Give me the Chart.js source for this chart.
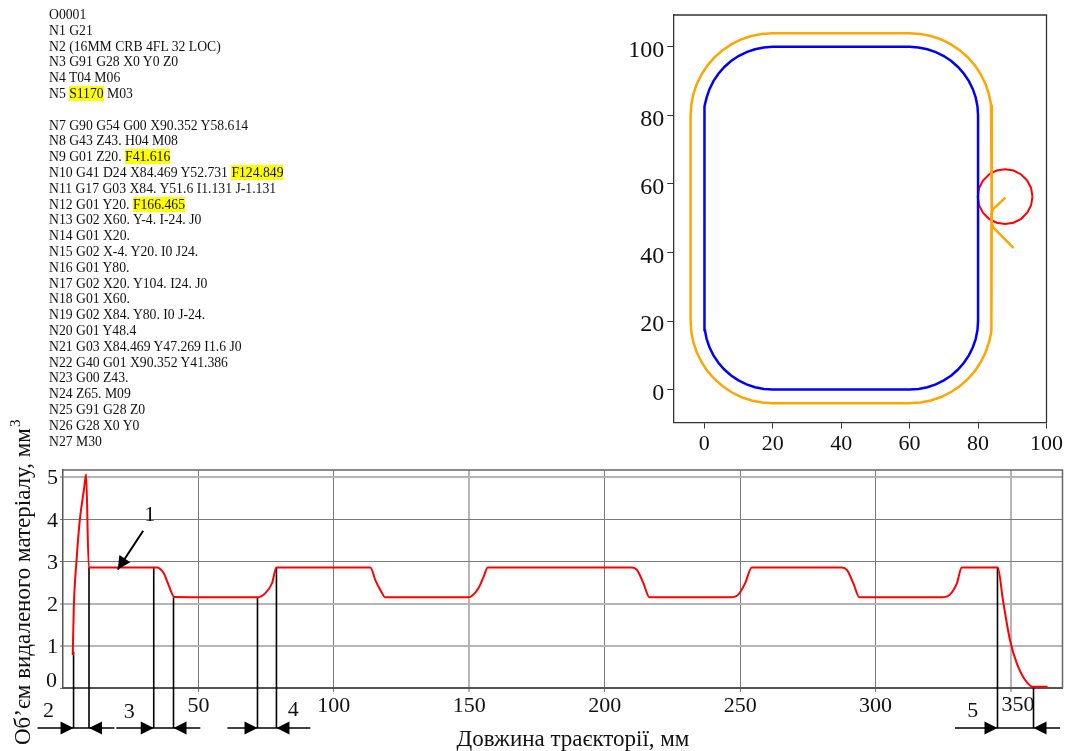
<!DOCTYPE html>
<html>
<head>
<meta charset="utf-8">
<title>G-code toolpath</title>
<script src="https://cdn.jsdelivr.net/npm/chart.js@4"></script>
<style>
    html, body { margin: 0; padding: 0; background: #fff; width: 1065px; height: 751px; overflow: hidden; }
    canvas { position: absolute; }
    #pathChart { left: 620px; top: 0; }
    #volumeChart { left: 0; top: 410px; }
    #gcode {
        position: absolute; left: 49px; top: 7px; z-index: 2;
        font: 13.7px/15.8px "Liberation Serif", serif; color: #111; white-space: pre;
    }
    #gcode mark { background: #ffff00; color: #111; }
</style>
</head>
<body>
<div id="gcode"></div>
<canvas id="volumeChart" width="1065" height="341"></canvas>
<canvas id="pathChart" width="445" height="460"></canvas>
<script>
const gcodeLines = [
    'O0001', 'N1 G21', 'N2 (16MM CRB 4FL 32 LOC)', 'N3 G91 G28 X0 Y0 Z0', 'N4 T04 M06', 'N5 S1170 M03', '',
    'N7 G90 G54 G00 X90.352 Y58.614', 'N8 G43 Z43. H04 M08', 'N9 G01 Z20. F41.616',
    'N10 G41 D24 X84.469 Y52.731 F124.849', 'N11 G17 G03 X84. Y51.6 I1.131 J-1.131', 'N12 G01 Y20. F166.465',
    'N13 G02 X60. Y-4. I-24. J0', 'N14 G01 X20.', 'N15 G02 X-4. Y20. I0 J24.', 'N16 G01 Y80.',
    'N17 G02 X20. Y104. I24. J0', 'N18 G01 X60.', 'N19 G02 X84. Y80. I0 J-24.', 'N20 G01 Y48.4',
    'N21 G03 X84.469 Y47.269 I1.6 J0', 'N22 G40 G01 X90.352 Y41.386', 'N23 G00 Z43.', 'N24 Z65. M09',
    'N25 G91 G28 Z0', 'N26 G28 X0 Y0', 'N27 M30'
];
const highlighted = ['S1170', 'F41.616', 'F124.849', 'F166.465'];

// Top chart: contour, tool path, tool
const pathTicks = [0, 20, 40, 60, 80, 100];
const contourX = [80, 80,
    79.83, 79.32, 78.48, 77.32, 75.87, 74.14, 72.18, 70, 67.65, 65.18, 62.61, 60,
    20, 17.39, 14.82, 12.35, 10, 7.83, 5.86, 4.13, 2.68, 1.52, 0.68, 0.17, 0,
    0, 0.17, 0.68, 1.52, 2.68, 4.13, 5.86, 7.83, 10, 12.35, 14.82, 17.39, 20,
    60, 62.61, 65.18, 67.65, 70, 72.17, 74.14, 75.87, 77.32, 78.48, 79.32, 79.83, 80,
    80];
const contourY = [50, 20,
    17.39, 14.82, 12.35, 10, 7.83, 5.86, 4.13, 2.68, 1.52, 0.68, 0.17, 0,
    0, 0.17, 0.68, 1.52, 2.68, 4.13, 5.86, 7.83, 10, 12.35, 14.82, 17.39, 20,
    80, 82.61, 85.18, 87.65, 90, 92.17, 94.14, 95.87, 97.32, 98.48, 99.32, 99.83, 100,
    100, 99.83, 99.32, 98.48, 97.32, 95.87, 94.14, 92.17, 90, 87.65, 85.18, 82.61, 80,
    50];
const toolPathX = [88, 84.469, 84, 84,
    83.79, 83.18, 82.18, 80.78, 79.04, 76.97, 74.61, 72, 69.18, 66.21, 63.13, 60,
    20, 16.87, 13.79, 10.82, 8, 5.39, 3.03, 0.96, -0.78, -2.17, -3.18, -3.79, -4,
    -4, -3.79, -3.18, -2.18, -0.78, 0.96, 3.03, 5.39, 8, 10.82, 13.79, 16.87, 20,
    60, 63.13, 66.21, 69.18, 72, 74.61, 76.97, 79.04, 80.78, 82.18, 83.18, 83.79, 84,
    84, 84.469, 90.352];
const toolPathY = [56, 52.731, 51.6, 20,
    16.87, 13.79, 10.82, 8, 5.39, 3.03, 0.96, -0.78, -2.17, -3.18, -3.79, -4,
    -4, -3.79, -3.18, -2.18, -0.78, 0.96, 3.03, 5.39, 8, 10.82, 13.79, 16.87, 20,
    80, 83.13, 86.21, 89.18, 92, 94.61, 96.97, 99.04, 100.78, 102.17, 103.18, 103.79, 104,
    104, 103.79, 103.18, 102.18, 100.78, 99.04, 96.97, 94.61, 92, 89.18, 86.21, 83.13, 80,
    48.4, 47.269, 41.386];
const toolX = [95.9, 95.51, 94.37, 92.6, 90.37, 87.9, 85.43, 83.2, 81.43, 80.29, 79.9, 80.29, 81.43, 83.2, 85.43, 87.9, 90.37, 92.6, 94.37, 95.51, 95.9];
const toolY = [56.3, 58.77, 61, 62.77, 63.91, 64.3, 63.91, 62.77, 61, 58.77, 56.3, 53.83, 51.6, 49.83, 48.69, 48.3, 48.69, 49.83, 51.6, 53.83, 56.3];

// Bottom chart: removed volume along the path
const volumeXTicks = [50, 100, 150, 200, 250, 300, 350];
const volumeYTicks = [0, 1, 2, 3, 4, 5];
const softXTicks = [150, 350];
const softYTicks = [1, 2, 5];
const lengthMm = [3.6, 4, 5, 6.2, 7.7, 8.55, 9.5, 34.8, 35.9, 37.2, 39, 41.1, 71.6, 74.7, 77.2, 78.8, 113.5, 115.3, 117.2, 119, 149.7, 151.6, 153.4, 155.3, 156.8, 210, 211.9, 214.3, 216.5, 246.3, 249.4, 251.8, 254.3, 287.5, 289.4, 291.8, 294, 324.4, 327.5, 330, 331.8, 345.1, 347, 349.6, 352.1, 355.2, 358.1, 363.5];
const volumeMm3 = [0.78, 1.93, 3.03, 3.98, 4.69, 5.07, 2.86, 2.86, 2.82, 2.72, 2.44, 2.16, 2.15, 2.25, 2.49, 2.86, 2.86, 2.56, 2.32, 2.15, 2.15, 2.22, 2.37, 2.64, 2.86, 2.86, 2.8, 2.48, 2.15, 2.15, 2.22, 2.48, 2.86, 2.86, 2.8, 2.48, 2.15, 2.15, 2.22, 2.48, 2.86, 2.86, 2.09, 1.14, 0.59, 0.19, 0.03, 0.03];

// Callouts under the bottom chart, in chart units
const calloutX = [3.9, 9.6, 33.5, 40.8, 71.8, 78.8, 345, 358.3];
const calloutTop = [0.86, 2.86, 2.86, 2.15, 2.15, 2.86, 2.86, 0.03];
const calloutY = -0.95;
const dimFrom = [-9.4, 19.7, 60.7, 329.3];
const dimTo = [19, 50.7, 91.3, 368.1];
const leaderX = [29.6, 20.2];
const leaderY = [3.73, 2.81];
const noteText = ['1', '2', '3', '4', '5', '0', '350'];
const noteX = [32, -5.35, 24.5, 85, 335.9, -4.2, 352.6];
const noteY = [4.1, -0.545, -0.57, -0.52, -0.56, 0.166, -0.4];

const SERIF = '"Liberation Serif", serif';

document.getElementById('gcode').innerHTML = gcodeLines.map(line =>
    line.split(' ').map(w => highlighted.includes(w) ? '<mark>' + w + '</mark>' : w).join(' ')
).join('\n');

function toPoints(xs, ys) {
    return xs.map((x, i) => ({ x: x, y: ys[i] }));
}

function lineSet(data, color, width) {
    return {
        data: data, borderColor: color, borderWidth: width,
        showLine: true, pointRadius: 0, clip: false, tension: 0
    };
}

// the axis would otherwise reserve room for its end labels
function fixBox(s, size) {
    if (s.isHorizontal()) s.height = size; else s.width = size;
    s.paddingTop = s.paddingBottom = s.paddingLeft = s.paddingRight = 0;
}

// top and right sides of the box
const framePlugin = {
    id: 'frame',
    beforeDatasetsDraw(chart, args, opts) {
        const a = chart.chartArea, ctx = chart.ctx;
        ctx.save();
        ctx.strokeStyle = opts.color;
        ctx.lineWidth = opts.width;
        ctx.beginPath();
        ctx.moveTo(a.left, a.top);
        ctx.lineTo(a.right, a.top);
        ctx.lineTo(a.right, a.bottom);
        ctx.stroke();
        ctx.restore();
    }
};

function arrowHead(ctx, px, py, angle) {
    ctx.save();
    ctx.translate(px, py);
    ctx.rotate(angle);
    ctx.beginPath();
    ctx.moveTo(0, 0);
    ctx.lineTo(-13, -6.5);
    ctx.lineTo(-13, 6.5);
    ctx.closePath();
    ctx.fill();
    ctx.restore();
}

// arrow heads, numbers and axis titles of the bottom chart
const notesPlugin = {
    id: 'notes',
    afterDatasetsDraw(chart) {
        const ctx = chart.ctx, sx = chart.scales.x, sy = chart.scales.y;
        ctx.save();
        ctx.fillStyle = '#000';
        calloutX.forEach((x, i) => {
            const angle = i % 2 === 0 ? 0 : Math.PI;
            arrowHead(ctx, sx.getPixelForValue(x), sy.getPixelForValue(calloutY), angle);
        });
        const tipX = sx.getPixelForValue(leaderX[1]), tipY = sy.getPixelForValue(leaderY[1]);
        arrowHead(ctx, tipX, tipY, Math.atan2(tipY - sy.getPixelForValue(leaderY[0]), tipX - sx.getPixelForValue(leaderX[0])));

        ctx.fillStyle = '#111';
        ctx.font = '22px ' + SERIF;
        ctx.textAlign = 'center';
        ctx.textBaseline = 'middle';
        noteText.forEach((t, i) => {
            ctx.fillText(t, sx.getPixelForValue(noteX[i]), sy.getPixelForValue(noteY[i]));
        });

        ctx.textBaseline = 'alphabetic';
        ctx.font = '23px ' + SERIF;
        ctx.fillText('Довжина траєкторії, мм', 573, 336);

        ctx.translate(30, 335);
        ctx.rotate(-Math.PI / 2);
        ctx.textAlign = 'left';
        ctx.fillText('Об’єм видаленого матеріалу, мм', 0, 0);
        const w = ctx.measureText('Об’єм видаленого матеріалу, мм').width;
        ctx.font = '15px ' + SERIF;
        ctx.fillText('3', w + 1, -10);
        ctx.restore();
    }
};

new Chart(document.getElementById('pathChart').getContext('2d'), {
    type: 'scatter',
    plugins: [framePlugin],
    data: {
        datasets: [
            lineSet(toPoints(contourX, contourY), '#0000ff', 2.5),
            lineSet(toPoints(toolPathX, toolPathY), '#ffa500', 2.5),
            lineSet(toPoints(toolX, toolY), '#ff0000', 2)
        ]
    },
    options: {
        responsive: false,
        animation: false,
        layout: { padding: { top: 15, right: 18.5, bottom: 0, left: 0 } },
        plugins: { legend: { display: false }, tooltip: { enabled: false }, frame: { color: '#333', width: 1.3 } },
        scales: {
            x: {
                type: 'linear', min: -9.05, max: 100,
                afterFit: s => fixBox(s, 37.5),
                afterBuildTicks: s => { s.ticks = pathTicks.map(v => ({ value: v })); },
                grid: { drawOnChartArea: false, color: '#333', tickLength: 6 },
                border: { color: '#333', width: 1.3 },
                ticks: { color: '#111', padding: 3, maxRotation: 0, autoSkip: false, font: { family: SERIF, size: 22 } }
            },
            y: {
                type: 'linear', min: -9.6, max: 109.3,
                afterFit: s => fixBox(s, 53.3),
                afterBuildTicks: s => { s.ticks = pathTicks.map(v => ({ value: v })); },
                grid: { drawOnChartArea: false, color: '#333', tickLength: 6 },
                border: { color: '#333', width: 1.3 },
                ticks: { color: '#111', padding: 3, labelOffset: 4, autoSkip: false, font: { family: SERIF, size: 24 } }
            }
        }
    }
});

const calloutSets = calloutX.map((x, i) => lineSet([{ x: x, y: calloutTop[i] }, { x: x, y: calloutY }], '#000', 1.6));
const dimSets = dimFrom.map((x, i) => lineSet([{ x: x, y: calloutY }, { x: dimTo[i], y: calloutY }], '#000', 1.6));

new Chart(document.getElementById('volumeChart').getContext('2d'), {
    type: 'scatter',
    plugins: [framePlugin, notesPlugin],
    data: {
        datasets: [
            { ...lineSet(toPoints(lengthMm, volumeMm3), '#ff0000', 2), cubicInterpolationMode: 'monotone' },
            ...calloutSets,
            ...dimSets,
            lineSet(toPoints(leaderX, leaderY), '#000', 2)
        ]
    },
    options: {
        responsive: false,
        animation: false,
        layout: { padding: { top: 60, right: 2.5, bottom: 0, left: 0 } },
        plugins: { legend: { display: false }, tooltip: { enabled: false }, frame: { color: '#666', width: 1.5 } },
        scales: {
            x: {
                type: 'linear', min: 0, max: 369,
                afterFit: s => fixBox(s, 63),
                afterBuildTicks: s => { s.ticks = volumeXTicks.map(v => ({ value: v })); },
                grid: {
                    color: c => c.tick && softXTicks.includes(c.tick.value) ? '#b5b5b5' : '#7a7a7a',
                    lineWidth: c => c.tick && softXTicks.includes(c.tick.value) ? 2 : 1,
                    tickLength: 4
                },
                border: { color: '#555', width: 2 },
                ticks: { color: '#111', padding: 1, maxRotation: 0, autoSkip: false, font: { family: SERIF, size: 22 },
                    callback: v => v === 350 ? '' : String(v) }
            },
            y: {
                type: 'linear', min: 0, max: 5.17,
                afterFit: s => fixBox(s, 63),
                afterBuildTicks: s => { s.ticks = volumeYTicks.map(v => ({ value: v })); },
                grid: {
                    color: c => c.tick && softYTicks.includes(c.tick.value) ? '#b5b5b5' : '#7a7a7a',
                    lineWidth: c => c.tick && softYTicks.includes(c.tick.value) ? 2 : 1,
                    tickLength: 3
                },
                border: { color: '#555', width: 1.5 },
                ticks: { color: '#111', padding: 2, labelOffset: 1.5, autoSkip: false, font: { family: SERIF, size: 22 },
                    callback: v => v === 0 ? '' : String(v) }
            }
        }
    }
});
</script>
</body>
</html>
